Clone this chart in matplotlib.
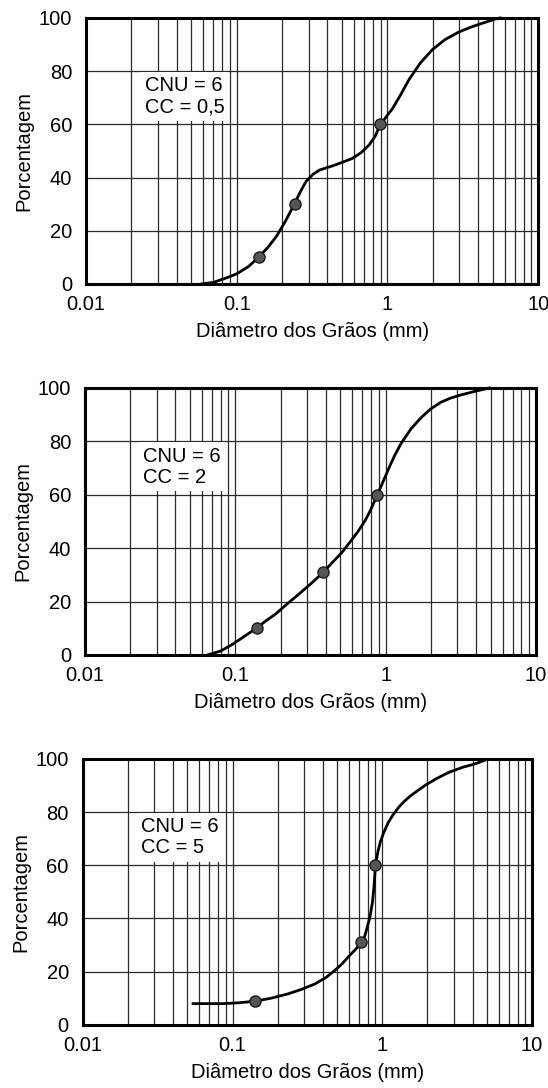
import numpy as np
import matplotlib
matplotlib.use("Agg")
import matplotlib.pyplot as plt
from matplotlib.ticker import FixedLocator, LogLocator, NullFormatter

plt.rcParams['font.family'] = ['Liberation Sans', 'DejaVu Sans']

# --- curva 1: CNU = 6, CC = 0,5 ---
d1 = [0.0585, 0.07, 0.0855, 0.1, 0.12, 0.140, 0.16, 0.183, 0.21, 0.242, 0.265, 0.288, 0.32,
      0.354, 0.39, 0.433, 0.5, 0.585, 0.67, 0.757, 0.83, 0.89, 0.98, 1.08, 1.22, 1.39, 1.65,
      1.98, 2.4, 2.97, 3.6, 4.2, 5.2, 5.6]
p1 = [0.0, 0.6, 2.3, 3.8, 6.6, 10.1, 13.6, 17.8, 23.5, 30.2, 34.8, 38.5, 41.2,
      42.8, 43.6, 44.4, 45.7, 47.2, 49.4, 52.3, 55.6, 59.6, 62.8, 65.9, 71.0, 76.8, 83.0,
      88.0, 91.8, 94.7, 96.6, 97.9, 99.6, 100.0]
k1_d = [0.140, 0.242, 0.89]
k1_p = [10, 30, 60]

# --- curva 2: CNU = 6, CC = 2 ---
d2 = [0.0656, 0.08, 0.096, 0.115, 0.139, 0.16, 0.186, 0.22, 0.265, 0.32, 0.384, 0.44, 0.51,
      0.58, 0.66, 0.73, 0.79, 0.84, 0.88, 0.96, 1.04, 1.15, 1.27, 1.48, 1.73, 2.0, 2.34, 2.7,
      3.17, 4.1, 4.9]
p2 = [0.0, 1.5, 4.0, 7.0, 10.1, 12.8, 15.4, 19.0, 22.8, 26.8, 30.9, 34.5, 38.3,
      42.3, 46.5, 50.3, 54.0, 57.4, 60.0, 64.8, 69.4, 74.8, 79.3, 84.8, 89.0, 92.2, 94.7, 96.2,
      97.4, 99.0, 100.0]
k2_d = [0.139, 0.384, 0.88]
k2_p = [10, 31, 60]

# --- curva 3: CNU = 6, CC = 5 ---
d3 = [0.0545, 0.07, 0.086, 0.11, 0.141, 0.18, 0.236, 0.29, 0.355, 0.42, 0.48, 0.54, 0.60,
      0.66, 0.72, 0.76, 0.79, 0.83, 0.86, 0.88, 0.90, 0.935, 0.97, 1.02, 1.1, 1.19, 1.29,
      1.4, 1.52, 1.62, 1.95, 2.3, 2.8, 3.46, 4.1, 4.9]
p3 = [8.0, 8.0, 8.0, 8.3, 8.9, 10.0, 11.7, 13.4, 15.4, 17.8, 20.4, 23.0, 25.9,
      28.3, 30.6, 33.0, 36.4, 41.0, 46.3, 52.0, 60.0, 65.2, 68.8, 72.2, 76.3, 79.3, 81.9,
      84.0, 85.8, 87.0, 90.2, 92.6, 95.0, 96.9, 98.0, 99.6]
k3_d = [0.141, 0.72, 0.90]
k3_p = [9, 31, 60]

curves = [(d1, p1, k1_d, k1_p, "CNU = 6\nCC = 0,5"),
          (d2, p2, k2_d, k2_p, "CNU = 6\nCC = 2"),
          (d3, p3, k3_d, k3_p, "CNU = 6\nCC = 5")]

xticks = [0.01, 0.1, 1, 10]
xticklabels = ["0.01", "0.1", "1", "10"]
yticks = [0, 20, 40, 60, 80, 100]

fig = plt.figure(figsize=(5.48, 10.88), dpi=100)
boxes = [[0.157, 0.739, 0.825, 0.2445],
         [0.155, 0.398, 0.823, 0.2454],
         [0.151, 0.058, 0.820, 0.2445]]

for (d, p, kd, kp, label), box in zip(curves, boxes):
    ax = fig.add_axes(box)
    ax.set_xscale("log")
    ax.set_xlim(0.01, 10)
    ax.set_ylim(0, 100)

    ax.xaxis.set_major_locator(FixedLocator(xticks))
    ax.set_xticklabels(xticklabels)
    ax.xaxis.set_minor_locator(LogLocator(base=10, subs=np.arange(2, 10)))
    ax.xaxis.set_minor_formatter(NullFormatter())
    ax.set_yticks(yticks)

    ax.grid(True, which="both", axis="x", color="#2a2a2a", lw=0.9)
    ax.grid(True, which="major", axis="y", color="#2a2a2a", lw=0.9)
    ax.tick_params(which="both", length=0, labelsize=14.5)
    ax.tick_params(axis="x", pad=8)
    ax.tick_params(axis="y", pad=10)

    for s in ax.spines.values():
        s.set_linewidth(2.2)
        s.set_color("black")
        s.set_zorder(5)

    ax.plot(d, p, color="black", lw=2.0, zorder=3, clip_on=False)
    ax.plot(kd, kp, "o", ms=8, mfc="#555555", mec="#1a1a1a", mew=1.0, zorder=4)

    ax.text(0.0245, 70.5, label, fontsize=14.5, va="center", ha="left", linespacing=1.15,
            bbox=dict(fc="white", ec="none", pad=3), zorder=2)

    ax.set_xlabel("Diâmetro dos Grãos (mm)", fontsize=14.5, labelpad=6)
    ax.set_ylabel("Porcentagem", fontsize=14.5, labelpad=4)

fig.savefig("out.png", dpi=100, facecolor="white")
